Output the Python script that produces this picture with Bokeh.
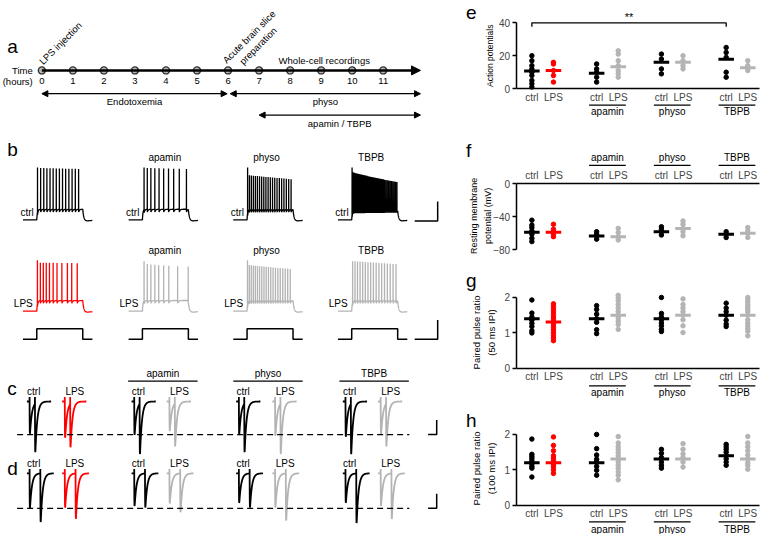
import numpy as np
from bokeh.plotting import figure
from bokeh.layouts import row, column
from bokeh.models import Range1d, FixedTicker, Arrow, NormalHead
from bokeh.core.properties import value
from bokeh.embed import file_html
from bokeh.resources import INLINE

FONT = "Liberation Sans"
BLACK, RED, GRAY = "#000000", "#ff0000", "#b4b4b4"

# ======================= DATA =======================
# panel a: protocol timeline (hours)
HOURS = list(range(12))
TIMELINE_END = 12.2
PHASE_NAMES = ["Endotoxemia", "physo", "apamin / TBPB"]
PHASE_START = [0.0, 6.07, 7.0]
PHASE_END = [5.97, 12.2, 12.2]
EVENT_NAMES = ["LPS injection", "Acute brain slice\npreparation"]
EVENT_HOURS = [0, 6]
RECORDING_LABEL = "Whole-cell recordings"

# conditions (panels b-h)
DRUGS = ["", "apamin", "physo", "TBPB"]
CONDS = ["ctrl", "LPS"] * 4
POS = [0, 1, 3, 4, 6, 7, 9, 10]
COLORS = [BLACK, RED, BLACK, GRAY, BLACK, GRAY, BLACK, GRAY]

# panel b: spike times (ms after current-step onset) and peaks (mV: first, next, last)
B_CTRL_SPIKES = [
    [8, 42, 76, 110, 144, 178, 212, 246, 280, 314, 349, 384, 419, 455],
    [18, 53, 92, 135, 181, 231, 284, 340, 401, 479],
    [6, 26, 47, 69, 91, 113, 136, 159, 182, 205, 229, 253, 277, 301, 326, 351, 376, 401, 427, 453, 479],
    [4, 14, 24, 35, 46, 57, 68, 80, 92, 104, 116, 128, 140, 153, 166, 179, 192, 205, 218, 231,
     245, 259, 273, 287, 301, 315, 329, 343, 357, 372, 387, 402, 417, 432, 447, 462, 477, 492],
]
B_LPS_SPIKES = [
    [7, 39, 71, 103, 138, 178, 220, 273, 333, 380, 440],
    [18, 53, 92, 135, 177, 231, 287, 383, 498],
    [5, 25, 46, 68, 90, 113, 136, 160, 184, 208, 233, 258, 283, 309, 335, 361, 388, 415, 442, 470],
    [10, 36, 63, 91, 119, 148, 177, 206, 236, 266, 296, 326, 357, 388, 419, 450, 482],
]
B_CTRL_PEAKS = [(38, 37, 35), (38, 37, 35), (38, 22, 14), (38, 28, 8)]
B_LPS_PEAKS = [(35, 30, 29), (33, 27, 22), (35, 25, 17), (33, 33, 27)]
REST_MV, PLATEAU_MV = -70.0, -48.0
STEP_PA = 220.0
STEP_MS = 500.0

# panels c/d: EPSC amplitudes (pA) [1st, 2nd] per column (ctrl, apamin, physo, TBPB)
C_CTRL_AMP = [[220, 347], [227, 360], [227, 347], [240, 360]]
C_LPS_AMP = [[247, 313], [200, 307], [233, 360], [227, 307]]
D_CTRL_AMP = [[240, 333], [222, 233], [200, 233], [200, 340]]
D_LPS_AMP = [[233, 311], [205, 265], [233, 322], [222, 311]]
C_IPI, D_IPI = 50.0, 100.0
C_DASH_PA, D_DASH_PA = 227.0, 240.0

# panel e: action potentials
AP_VALUES = [
    [20, 17, 14, 12, 10, 8, 5, 3, 1],
    [16, 15, 11, 8, 4],
    [15, 12, 10, 7, 4],
    [23, 21, 17, 14, 11, 9, 7],
    [21, 18, 12, 9],
    [20, 17, 14, 12],
    [25, 22, 19, 10, 7],
    [17, 14, 11],
]
AP_MEANS = [10.8, 11.0, 9.4, 13.3, 16.0, 16.0, 17.8, 12.7]
SIG_PAIR = (0, 6)
SIG_LEVEL = 40
SIG_TEXT = "**"

# panel f: resting membrane potential (mV)
RMP_VALUES = [
    [-44, -50, -53, -57, -61, -66, -70],
    [-49, -55, -58, -61, -64],
    [-58, -61, -63, -67],
    [-54, -59, -64, -68],
    [-52, -55, -58, -62],
    [-45, -49, -54, -58, -63],
    [-58, -61, -65],
    [-53, -57, -60, -65],
]
RMP_MEANS = [-58.8, -58.8, -63.1, -64.0, -58.0, -54.0, -61.0, -60.0]

# panel g: paired pulse ratio, 50 ms IPI
PPR50_VALUES = [
    [1.93, 1.56, 1.45, 1.36, 1.27, 1.18, 1.06, 1.0],
    [1.82, 1.75, 1.68, 1.6, 1.52, 1.45, 1.38, 1.3, 1.22, 1.15, 1.08, 1.0, 0.92, 0.85, 0.78],
    [1.77, 1.66, 1.53, 1.40, 1.3, 1.09, 0.98],
    [2.06, 1.98, 1.9, 1.8, 1.7, 1.6, 1.5, 1.42, 1.33, 1.24, 1.1],
    [2.0, 1.55, 1.45, 1.37, 1.28, 1.2, 1.1, 1.04],
    [1.96, 1.8, 1.7, 1.6, 1.5, 1.37, 1.2, 1.01],
    [1.84, 1.7, 1.6, 1.5, 1.36, 1.25, 1.18],
    [2.0, 1.93, 1.87, 1.8, 1.73, 1.66, 1.6, 1.5, 1.37, 1.28, 1.2, 1.12, 1.05, 0.92],
]
PPR50_MEANS = [1.40, 1.31, 1.40, 1.50, 1.40, 1.50, 1.50, 1.50]

# panel h: paired pulse ratio, 100 ms IPI
PPR100_VALUES = [
    [1.87, 1.44, 1.38, 1.32, 1.25, 1.17, 1.1, 1.05, 0.8],
    [1.93, 1.69, 1.54, 1.4, 1.33, 1.26, 1.2, 1.14, 1.08, 1.0, 0.9],
    [2.0, 1.6, 1.42, 1.3, 1.22, 1.1, 0.99, 0.85],
    [1.94, 1.76, 1.66, 1.58, 1.49, 1.4, 1.31, 1.22, 1.13, 1.04, 0.94, 0.85, 0.72],
    [1.58, 1.47, 1.35, 1.22, 1.13, 1.05],
    [1.74, 1.58, 1.45, 1.35, 1.22, 1.08],
    [1.72, 1.65, 1.58, 1.5, 1.4, 1.31, 1.22, 1.13],
    [1.94, 1.76, 1.65, 1.54, 1.42, 1.31, 1.2, 1.13, 1.02],
]
PPR100_MEANS = [1.2, 1.2, 1.2, 1.31, 1.31, 1.31, 1.4, 1.31]


# ======================= HELPERS =======================
def txt(p, x, y, s, size="10px", align="center", baseline="middle", angle=0.0,
        color=BLACK, line_height=1.2, **kw):
    p.text(x=x, y=y, text=s, text_font=value(FONT), text_font_size=value(size),
           text_align=align, text_baseline=baseline, angle=angle, text_color=color,
           text_line_height=line_height, **kw)


# ======================= LEFT CANVAS (a-d) =======================
L = figure(width=445, height=534, x_range=Range1d(0, 455), y_range=Range1d(550, 0),
           x_axis_type=None, y_axis_type=None, min_border=0, output_backend="svg",
           toolbar_location=None)
L.outline_line_color = None

HX0, HPX = 42.3, 31.73
L.extra_x_ranges = {"hours": Range1d(-HX0 / HPX, (455 - HX0) / HPX)}

# --- panel a ---
txt(L, [7], [47.5], ["a"], size="19px", align="left", baseline="alphabetic")
txt(L, [33], [72], ["Time"], size="9.5px", align="right")
txt(L, [33], [83], ["(hours)"], size="9.5px", align="right")
L.add_layout(Arrow(end=NormalHead(size=9, fill_color=BLACK, line_color=BLACK),
                   x_start=0, y_start=72, x_end=TIMELINE_END, y_end=72,
                   x_range_name="hours", line_width=2.5, line_color=BLACK))
L.scatter(HOURS, [72] * len(HOURS), x_range_name="hours", size=7,
          fill_color="#b8b8b8", line_color="#303030", line_width=1.4)
txt(L, HOURS, [83] * len(HOURS), [str(h) for h in HOURS], size="9.5px", x_range_name="hours")
for s, e, yy in zip(PHASE_START, PHASE_END, [96, 96, 118]):
    L.add_layout(Arrow(start=NormalHead(size=6, fill_color=BLACK, line_color=BLACK),
                       end=NormalHead(size=6, fill_color=BLACK, line_color=BLACK),
                       x_start=s, y_start=yy, x_end=e, y_end=yy, x_range_name="hours",
                       line_width=1.3, line_color=BLACK))
txt(L, [(PHASE_START[i] + PHASE_END[i]) / 2 for i in range(3)], [104, 104, 127], PHASE_NAMES,
    size="9.5px", x_range_name="hours")
txt(L, [EVENT_HOURS[0] + 0.6, EVENT_HOURS[1] + 0.82], [44, 42], EVENT_NAMES, size="9.5px",
    angle=np.pi / 4, x_range_name="hours", line_height=1.15)
txt(L, [(6 + TIMELINE_END) / 2], [62], [RECORDING_LABEL], size="9.5px", x_range_name="hours")

# --- panel b ---
txt(L, [7], [153], ["b"], size="19px", align="left", baseline="alphabetic")
B_MS_PX, B_MV_PX, B_PA_PX = 0.094, 0.5, 0.05
B_COL_X0 = [23, 131, 238, 345]
B_ROW_Y = [226, 320]
STEP_Y = 349


def ap_trace(spikes, peaks):
    t = np.arange(-150.0, 605.0, 0.5)
    v = np.full_like(t, REST_MV)
    on = (t >= 0) & (t <= STEP_MS)
    v[on] = REST_MV + (PLATEAU_MV - REST_MV) * (1 - np.exp(-t[on] / 6.0))
    off = t > STEP_MS
    td = t[off] - STEP_MS
    v[off] = REST_MV + (PLATEAU_MV - REST_MV) * np.exp(-td / 12.0) \
        - 4.0 * (1 - np.exp(-td / 12.0)) * np.exp(-td / 80.0)
    for ts in spikes:
        m = t > ts
        v[m] -= 6.0 * np.exp(-(t[m] - ts) / 9.0)
    n = len(spikes)
    for i, ts in enumerate(spikes):
        if i == 0:
            pk = peaks[0]
        else:
            pk = peaks[1] + (peaks[2] - peaks[1]) * (i - 1) / max(n - 2, 1)
        j = int(np.searchsorted(t, ts))
        v[j] = pk
    return t, v


for row_i, (spk_set, pk_set) in enumerate([(B_CTRL_SPIKES, B_CTRL_PEAKS), (B_LPS_SPIKES, B_LPS_PEAKS)]):
    for col in range(4):
        t, v = ap_trace(spk_set[col], pk_set[col])
        x = B_COL_X0[col] + (t + 150) * B_MS_PX
        y = B_ROW_Y[row_i] - (v - REST_MV) * B_MV_PX
        c = BLACK if row_i == 0 else (RED if col == 0 else GRAY)
        L.line(x, y, line_color=c, line_width=1.3)
# current step protocol under LPS row
for col in range(4):
    ts = np.array([-150, 0, 0, STEP_MS, STEP_MS, 605.0])
    cur = np.array([0, 0, STEP_PA, STEP_PA, 0, 0])
    L.line(B_COL_X0[col] + (ts + 150) * B_MS_PX, STEP_Y - cur * B_PA_PX,
           line_color=BLACK, line_width=1.5)

txt(L, [c + 11 for c in B_COL_X0], [218] * 4, ["ctrl"] * 4, align="right")
txt(L, [c + 10 for c in B_COL_X0], [312] * 4, ["LPS"] * 4, align="right")
txt(L, [168, 272, 379], [162] * 3, DRUGS[1:])
txt(L, [168, 272, 379], [258] * 3, DRUGS[1:])
# scale bars (40 mV / 250 ms ; 400 pA / 250 ms)
L.line([447 - 250 * B_MS_PX, 447, 447], [227, 227, 227 - 40 * B_MV_PX], line_color=BLACK, line_width=1.5)
L.line([447 - 250 * B_MS_PX, 447, 447], [349, 349, 349 - 400 * B_PA_PX], line_color=BLACK, line_width=1.5)

# --- panels c, d ---
CD_MS_PX, CD_PA_PX = 0.11, 0.15
CTRL_X0 = [27, 134, 241, 350]
LPS_X0 = [63, 170, 278, 386]
TR, TD, ART_PA = 1.0, 18.0, 30.0


def epsc(a1, a2, ipi, tail):
    t = np.arange(-25.0, ipi + tail, 0.25)
    tp = np.log(TD / TR) * TR * TD / (TD - TR)
    kmax = np.exp(-tp / TD) - np.exp(-tp / TR)

    def k(tt):
        out = np.zeros_like(tt)
        m = tt > 0
        out[m] = (np.exp(-tt[m] / TD) - np.exp(-tt[m] / TR)) / kmax
        return out
    a2e = a2 - a1 * k(np.array([ipi + tp]))[0]
    cur = -(a1 * k(t) + a2e * k(t - ipi))
    for ts in (0.0, ipi):
        j = int(np.searchsorted(t, ts))
        cur[j - 1] = ART_PA
    return t, cur


for base_y, ipi, tail, ctrl_amp, lps_amp, dash_pa, letter, lab_y, let_base in [
        (413, C_IPI, 150, C_CTRL_AMP, C_LPS_AMP, C_DASH_PA, "c", 403, 400),
        (487, D_IPI, 125, D_CTRL_AMP, D_LPS_AMP, D_DASH_PA, "d", 477, 482)]:
    txt(L, [7], [let_base], [letter], size="19px", align="left", baseline="alphabetic")
    for col in range(4):
        for x0, amp, c in [(CTRL_X0[col], ctrl_amp[col], BLACK),
                           (LPS_X0[col], lps_amp[col], RED if col == 0 else GRAY)]:
            t, cur = epsc(amp[0], amp[1], ipi, tail)
            L.line(x0 + (t + 25) * CD_MS_PX, base_y - cur * CD_PA_PX, line_color=c, line_width=1.8)
    txt(L, [x + 7 for x in CTRL_X0], [lab_y] * 4, ["ctrl"] * 4)
    txt(L, [x + 13 for x in LPS_X0], [lab_y] * 4, ["LPS"] * 4)
    dy = base_y + dash_pa * CD_PA_PX
    L.line([17, 418], [dy, dy], line_color=BLACK, line_width=1.3, line_dash="6 4")
    # scale bar: 100 pA / 80 ms
    L.line([446 - 80 * CD_MS_PX, 446, 446], [dy, dy, dy - 100 * CD_PA_PX], line_color=BLACK, line_width=1.5)

# drug headings over panel c
GX_C = [(CTRL_X0[i] + LPS_X0[i]) / 2 + 14 for i in range(1, 4)]
L.segment(x0=[g - 35.5 for g in GX_C], x1=[g + 35.5 for g in GX_C], y0=[392] * 3, y1=[392] * 3,
          line_color=BLACK, line_width=1.3)
txt(L, GX_C, [384] * 3, DRUGS[1:])


# ======================= RIGHT PANELS (e-h) =======================
def stat_panel(h, ref_top, ref_bot, zero_ref, ppu, ticks, values, means, top_axis,
               ylabel, ylab_size, ylab_ref, letter, letter_base, standoff,
               grp_line_ref, grp_text_ref):
    def ys(r):
        return (zero_ref - r) / ppu

    def xs(r):
        return (r - 543.0) / 22.0

    p = figure(width=317, height=h, x_range=Range1d(xs(455), xs(778)),
               y_range=Range1d(ys(ref_bot), ys(ref_top)), output_backend="svg",
               toolbar_location=None, min_border=0,
               x_axis_location="above" if top_axis else "below")
    p.outline_line_color = None
    p.xgrid.visible = False
    p.ygrid.visible = False
    xa = p.xaxis[0]
    xa.fixed_location = 0
    xa.bounds = (xs(527), xs(775))
    xa.ticker = FixedTicker(ticks=POS)
    xa.major_label_overrides = {pp: c for pp, c in zip(POS, CONDS)}
    xa.major_tick_line_color = None
    xa.major_tick_in = 0
    xa.major_tick_out = 0
    xa.minor_tick_line_color = None
    xa.minor_tick_in = 0
    xa.minor_tick_out = 0
    xa.axis_line_width = 1.5
    xa.major_label_text_font = FONT
    xa.major_label_text_font_size = "10px"
    xa.major_label_standoff = standoff
    ya = p.yaxis[0]
    ya.fixed_location = xs(527)
    ya.bounds = (min(ticks), max(ticks))
    ya.ticker = FixedTicker(ticks=ticks)
    ya.minor_tick_line_color = None
    ya.major_tick_in = 0
    ya.major_tick_out = 4
    ya.major_tick_line_width = 1.5
    ya.axis_line_width = 1.5
    ya.major_label_text_font = FONT
    ya.major_label_text_font_size = "10px"
    ya.major_label_standoff = 2
    for pos, col, vals, m in zip(POS, COLORS, values, means):
        p.scatter([pos] * len(vals), vals, size=4.5, color=col)
        p.segment(x0=[pos - 0.36], y0=[m], x1=[pos + 0.36], y1=[m], line_width=3, line_color=col)
    gx = [(POS[2 * i] + POS[2 * i + 1]) / 2 for i in range(1, 4)]
    gy = ys(grp_line_ref)
    p.segment(x0=[g - 0.85 for g in gx], x1=[g + 0.85 for g in gx], y0=[gy] * 3, y1=[gy] * 3,
              line_color=BLACK, line_width=1.3)
    txt(p, gx, [ys(grp_text_ref)] * 3, DRUGS[1:])
    txt(p, [xs(ylab_ref[0])], [ys(ylab_ref[1])], [ylabel], size=ylab_size, angle=np.pi / 2,
        line_height=1.4)
    txt(p, [xs(476)], [ys(letter_base)], [letter], size="19px", align="left", baseline="alphabetic")
    return p, xs, ys


E, exs, eys = stat_panel(126, 0, 130, 91, 1.7, [0, 20, 40], AP_VALUES, AP_MEANS, False,
                         "Action potentials", "8.5px", (500, 57), "e", 12, 3, 108, 115)
sx0, sx1 = POS[SIG_PAIR[0]], POS[SIG_PAIR[1]]
E.line([sx0, sx0, sx1, sx1], [eys(27), SIG_LEVEL, SIG_LEVEL, eys(27)], line_color=BLACK, line_width=1.3)
txt(E, [(sx0 + sx1) / 2], [eys(17)], [SIG_TEXT], size="11px")

F, _, _ = stat_panel(136, 130, 270, 189, 0.85, [-80, -40, 0], RMP_VALUES, RMP_MEANS, True,
                     "Resting membrane\npotential (mV)", "9px", (491, 222), "f", 155, 3, 170, 162)
G, _, _ = stat_panel(136, 270, 410, 379, 36.5, [0, 1, 2], PPR50_VALUES, PPR50_MEANS, False,
                     "Paired pulse ratio\n(50 ms IPI)", "9.5px", (494, 342), "g", 289, 3, 397, 404)
H, _, _ = stat_panel(136, 410, 550, 520, 36.5, [0, 1, 2], PPR100_VALUES, PPR100_MEANS, False,
                     "Paired pulse ratio\n(100 ms IPI)", "9.5px", (494, 482), "h", 433, 3, 537, 545)

layout = row(L, column(E, F, G, H, spacing=0), spacing=0)
open("out.html", "w").write(file_html(layout, INLINE))
